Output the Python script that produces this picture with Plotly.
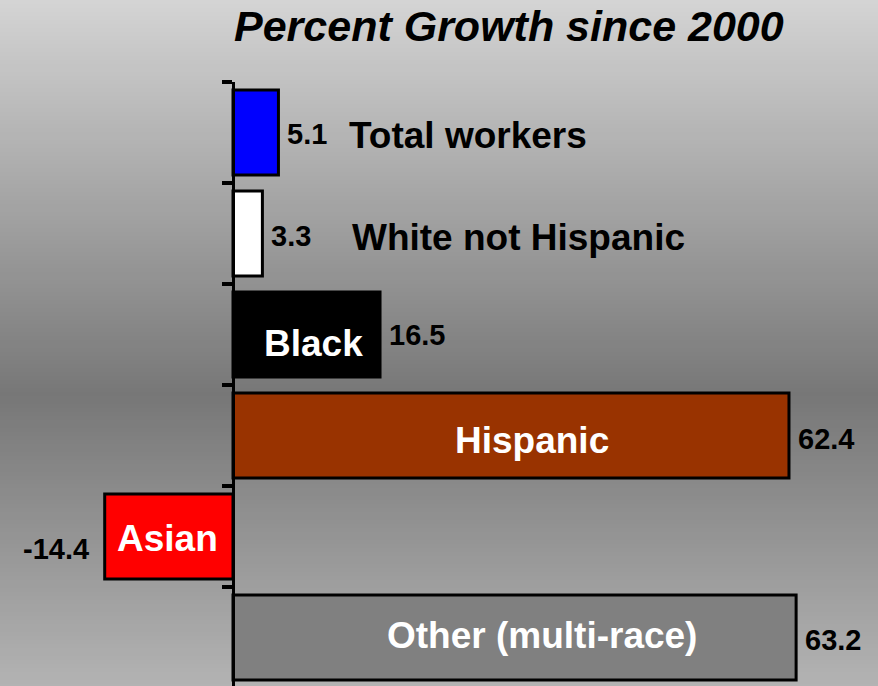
import plotly.graph_objects as go

# ---- data ----
categories = ["Total workers", "White not Hispanic", "Black", "Hispanic", "Asian", "Other (multi-race)"]
growth_pct = [5.1, 3.3, 16.5, 62.4, -14.4, 63.2]
value_labels = ["5.1", "3.3", "16.5", "62.4", "-14.4", "63.2"]

# ---- styles / layout helpers ----
bar_colors = ["#0000FF", "#FFFFFF", "#000000", "#993300", "#FF0000", "#808080"]
name_colors = ["black", "black", "white", "white", "white", "white"]
name_anchor = ["left", "left", "center", "center", "center", "center"]
name_x = [12.8, 13.1, 9.0, 33.6, -7.3, 34.7]          # label positions (data units)
name_yshift = [-3, -4, -9, -5, -2, 2]
value_yshift = [-1, -2, 0, -3, -12, -2]

W, H = 878, 686
TOP = 82
FONT = "Liberation Sans, Arial, sans-serif"

fig = go.Figure()
fig.add_trace(go.Bar(
    y=categories, x=growth_pct, orientation="h",
    marker=dict(color=bar_colors, line=dict(color="black", width=3)),
    width=0.84, hoverinfo="skip", showlegend=False,
))

annotations = []
for i, cat in enumerate(categories):
    v = growth_pct[i]
    annotations.append(dict(
        x=v, y=cat, xref="x", yref="y", text="<b>%s</b>" % value_labels[i],
        showarrow=False, xanchor="left" if v >= 0 else "right",
        xshift=7 if v >= 0 else -14, yshift=value_yshift[i],
        font=dict(family=FONT, size=29, color="black"),
    ))
    annotations.append(dict(
        x=name_x[i], y=cat, xref="x", yref="y", text="<b>%s</b>" % cat,
        showarrow=False, xanchor=name_anchor[i], yshift=name_yshift[i],
        font=dict(family=FONT, size=37, color=name_colors[i]),
    ))
annotations.append(dict(
    x=509 / W, y=1 + (TOP - 26) / (H - TOP), xref="paper", yref="paper",
    text="<b><i>Percent Growth since 2000</i></b>", showarrow=False,
    xanchor="center", yanchor="middle",
    font=dict(family=FONT, size=43, color="black"),
))

# background vertical gradient built from thin stripes
def gray_at(py):
    if py <= 395:
        g = 212 + (119 - 212) * py / 395
    else:
        g = 119 + (179 - 119) * (py - 395) / (H - 395)
    return int(round(g))

shapes = []
step = 4
plot_h = H - TOP
for py in range(0, H, step):
    g = gray_at(py + step / 2)
    y0 = (H - (py + step + 1)) / plot_h
    y1 = (H - py) / plot_h
    shapes.append(dict(type="rect", xref="paper", yref="paper", x0=-0.01, x1=1.01,
                       y0=y0, y1=y1, fillcolor="rgb(%d,%d,%d)" % (g, g, g),
                       line=dict(width=0), layer="below"))

px_per_unit = 8.91
zero_px = 233
x_min = -zero_px / px_per_unit
x_max = (W - zero_px) / px_per_unit

fig.update_layout(
    width=W, height=H,
    margin=dict(l=0, r=0, t=TOP, b=0, pad=0),
    paper_bgcolor="#b0b0b0", plot_bgcolor="rgba(0,0,0,0)",
    shapes=shapes, annotations=annotations,
    bargap=0.16,
    xaxis=dict(range=[x_min, x_max], showgrid=False, zeroline=False,
               showticklabels=False, ticks="", showline=False, domain=[0, 1]),
    yaxis=dict(type="category", range=[5.48, -0.5], showgrid=False, zeroline=False,
               showticklabels=False, showline=True, linecolor="black", linewidth=3,
               ticks="outside", ticklen=10, tickwidth=4, tickcolor="black",
               tickson="boundaries", anchor="free", position=zero_px / W),
)

fig.write_html(
    "out.html",
    config={"displayModeBar": False},
    post_script="document.body.style.margin='0';document.body.style.overflow='hidden';",
)
